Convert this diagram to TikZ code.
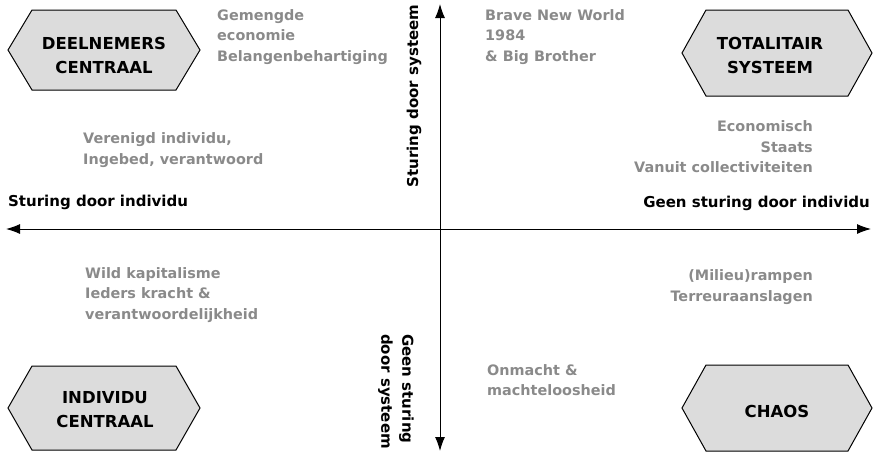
\documentclass[tikz,border=0pt]{standalone}
\usepackage{fontspec}
\setmainfont{DejaVu Sans}
\usetikzlibrary{arrows.meta,calc}
\definecolor{graytxt}{HTML}{8A8A8A}
\definecolor{hexfill}{HTML}{DCDCDC}
\newcommand\drawhex[3]{%
  \draw[hexshape] ($(#1)+(-#2,0)$) -- ($(#1)+(-#2+24,-#3)$) -- ($(#1)+(#2-24,-#3)$) -- ($(#1)+(#2,0)$) -- ($(#1)+(#2-24,#3)$) -- ($(#1)+(-#2+24,#3)$) -- cycle;}
\begin{document}
\begin{tikzpicture}[x=1pt,y=-1pt,
  graylabel/.style={text=graytxt, font=\fontsize{14.4}{20.5}\selectfont\bfseries, inner sep=0pt},
  axislabel/.style={text=black, font=\fontsize{15}{21}\selectfont\bfseries, inner sep=0pt},
  hextext/.style={font=\fontsize{16.5}{24}\selectfont\bfseries, align=center, inner sep=0pt},
  axisline/.style={line width=1pt, {Latex[length=14pt,width=10pt]}-{Latex[length=14pt,width=10pt]}},
  hexshape/.style={draw=black, line width=1pt, fill=hexfill}]
\useasboundingbox (0,0) rectangle (874,453);
% hexagons
\coordinate (hexA) at (104,50);
\coordinate (hexB) at (777,53);
\coordinate (hexC) at (104,408);
\coordinate (hexD) at (777,408);
\drawhex{hexA}{96}{40}
\drawhex{hexB}{95}{43}
\drawhex{hexC}{96}{42}
\drawhex{hexD}{95}{43}
\node[hextext] (dc) at (104,55) {DEELNEMERS\\CENTRAAL};
\node[hextext] (ts) at (770,55) {TOTALITAIR\\SYSTEEM};
\node[hextext] (ic) at (105,410) {INDIVIDU\\CENTRAAL};
\node[hextext] (ch) at (777,411) {CHAOS};
% axes
\coordinate (xl) at (6,229);
\coordinate (xr) at (871,229);
\coordinate (yt) at (440,4);
\coordinate (yb) at (440,451);
\draw[axisline] (xl) -- (xr);
\draw[axisline] (yt) -- (yb);
% axis labels
\node[axislabel, anchor=west] (sdi) at (8,202) {Sturing door individu};
\node[axislabel, anchor=east] (gsdi) at (870,203) {Geen sturing door individu};
\node[axislabel, rotate=90] (sds) at (414,96) {Sturing door systeem};
\node[axislabel, rotate=-90, anchor=west, align=left] (gsds) at (396,334) {Geen sturing\\door systeem};
% gray texts
\node[graylabel, anchor=west, align=left] (tl) at (217,37) {Gemengde\\economie\\Belangenbehartiging};
\node[graylabel, anchor=west, align=left] (tr) at (485,37) {Brave New World\\1984\\\& Big Brother};
\node[graylabel, anchor=west, align=left] (ml) at (83,150) {Verenigd individu,\\Ingebed, verantwoord};
\node[graylabel, anchor=east, align=right] (mr) at (813,147) {Economisch\\Staats\\Vanuit collectiviteiten};
\node[graylabel, anchor=west, align=left] (bl) at (85,295) {Wild kapitalisme\\Ieders kracht \&\\verantwoordelijkheid};
\node[graylabel, anchor=east, align=right] (br) at (813,287) {(Milieu)rampen\\Terreuraanslagen};
\node[graylabel, anchor=west, align=left] (bc) at (487,380) {Onmacht \&\\machteloosheid};
\end{tikzpicture}
\end{document}
